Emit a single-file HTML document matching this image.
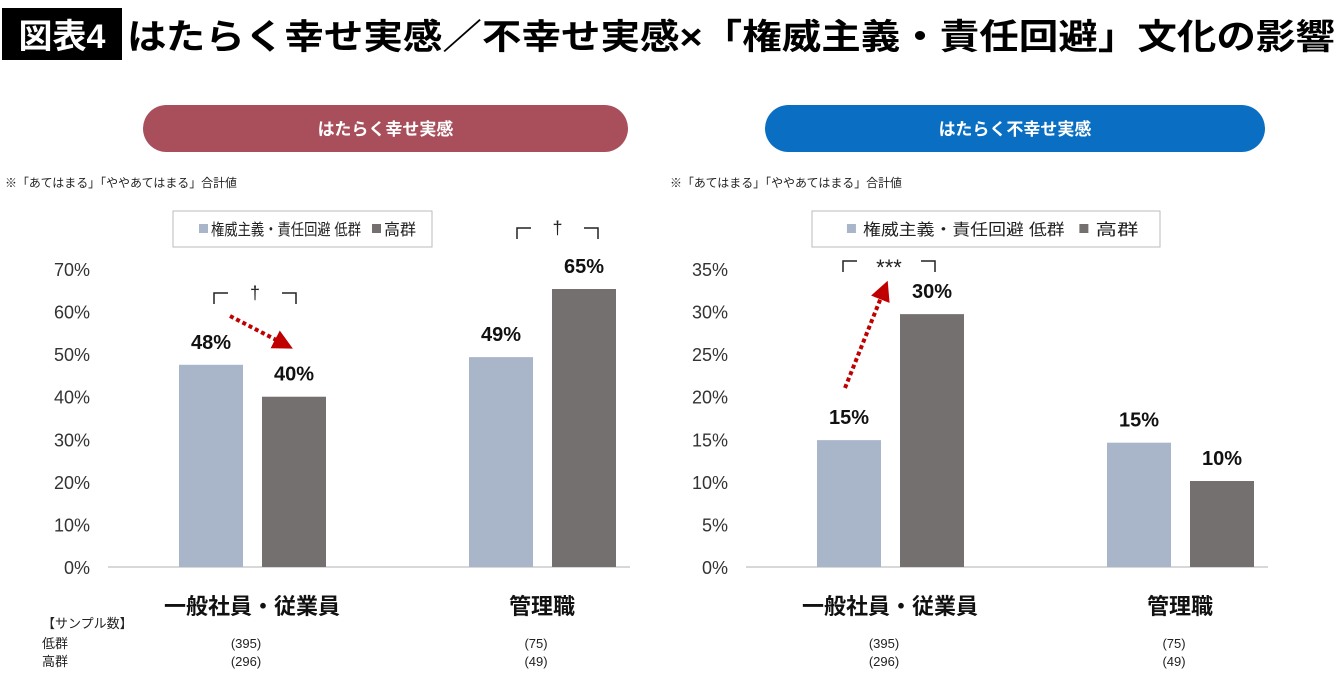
<!DOCTYPE html>
<html><head><meta charset="utf-8"><style>
html,body{margin:0;padding:0;background:#fff;}
body{width:1340px;height:681px;overflow:hidden;font-family:"Liberation Sans","Noto Sans CJK JP",sans-serif;}
svg text{font-family:"Liberation Sans","Noto Sans CJK JP",sans-serif;}
</style></head><body>
<svg id="s" width="1340" height="681" xmlns="http://www.w3.org/2000/svg">
<defs><marker id="ah" viewBox="0 0 10 10" refX="5" refY="5" markerWidth="5" markerHeight="5" orient="auto"><path d="M0,0L10,5L0,10z" fill="#c00000"/></marker></defs>
<rect x="2" y="8" width="120" height="52" fill="#000"/>
<text x="62" y="48" fill="#fff" font-size="34" font-weight="bold" text-anchor="middle">図表4</text>
<text x="127" y="49" fill="#000" font-size="35" font-weight="bold" textLength="1208" lengthAdjust="spacingAndGlyphs">はたらく幸せ実感／不幸せ実感×「権威主義・責任回避」文化の影響</text>
</svg>
<script>
const categories=["一般社員・従業員","管理職"];
const happyLow=[47.5,49.3];
const happyHigh=[40.0,65.3];
const unhappyLow=[14.9,14.6];
const unhappyHigh=[29.7,10.1];
const happyLabels=["48%","40%","49%","65%"];
const unhappyLabels=["15%","30%","15%","10%"];
const happyTicks=[0,10,20,30,40,50,60,70];
const unhappyTicks=[0,5,10,15,20,25,30,35];
const sampleLow=["(395)","(75)"];
const sampleHigh=["(296)","(49)"];
const svg=document.getElementById('s');
const NS="http://www.w3.org/2000/svg";
function mk(tag,at,txt){const e=document.createElementNS(NS,tag);for(const k in at)e.setAttribute(k,at[k]);if(txt!==undefined)e.textContent=txt;svg.appendChild(e);return e;}
function chart(ox,cfg,max,ticks,low,high,labels,title,pill,prefix){
  const y0=567,y1=269;
  const ys=v=>y0-(v/max)*(y0-y1);
  let e=mk('rect',{x:cfg.pillX,y:105,width:cfg.pillW,height:47,rx:23.5,fill:pill});
  
  e=mk('text',{x:cfg.pillX+cfg.pillW/2,y:135,'font-size':17,'font-weight':'bold',fill:'#fff','text-anchor':'middle'},title);
  
  e=mk('text',{x:cfg.noteX,y:187,'font-size':12,fill:'#222',textLength:232,lengthAdjust:'spacingAndGlyphs'},'※「あてはまる」「ややあてはまる」合計値');
  
  const lx=cfg.legX,lw=cfg.legW,k=lw/259;
  e=mk('rect',{x:lx,y:211,width:lw,height:36,fill:'#fff',stroke:'#bbb'});
  
  e=mk('rect',{x:lx+26*k,y:224,width:9,height:9,fill:'#a9b5c9'});
  
  e=mk('text',{x:lx+38*k,y:235,'font-size':16,fill:'#222',textLength:150*k,lengthAdjust:'spacingAndGlyphs'},'権威主義・責任回避  低群');
  
  e=mk('rect',{x:lx+199*k,y:224,width:9,height:9,fill:'#757070'});
  
  e=mk('text',{x:lx+211*k,y:235,'font-size':16,fill:'#222',textLength:32*k,lengthAdjust:'spacingAndGlyphs'},'高群');
  
  ticks.forEach(t=>{e=mk('text',{x:ox+90,y:ys(t)+7,'font-size':18,fill:'#333','text-anchor':'end'},t+'%');
    });
  e=mk('line',{x1:ox+108,x2:ox+630,y1:y0,y2:y0,stroke:'#ccc','stroke-width':1.5});
  
  const cx=[ox+252,ox+542];
  categories.forEach((c,i)=>{
    [[low[i],'#a9b5c9',-73,labels[i*2]],[high[i],'#757070',10,labels[i*2+1]]].forEach(([v,col,dx,lab],j)=>{
      const bx=cx[i]+dx;
      e=mk('rect',{x:bx,y:ys(v),width:64,height:y0-ys(v),fill:col});
      
      e=mk('text',{x:bx+32,y:ys(v)-16,'font-size':20,'font-weight':'bold',fill:'#111','text-anchor':'middle'},lab);
      
    });
    e=mk('text',{x:cx[i],y:614,'font-size':22,'font-weight':'bold',fill:'#111','text-anchor':'middle'},c);
    
    e=mk('text',{x:cx[i]-6,y:648,'font-size':13,fill:'#222','text-anchor':'middle'},sampleLow[i]);
    
    e=mk('text',{x:cx[i]-6,y:666,'font-size':13,fill:'#222','text-anchor':'middle'},sampleHigh[i]);
    
  });
}
chart(0,{pillX:143,pillW:485,noteX:5,legX:173,legW:259},70,happyTicks,happyLow,happyHigh,happyLabels,'はたらく幸せ実感','#a84f5b','happy');
chart(638,{pillX:765,pillW:500,noteX:670,legX:812,legW:348},35,unhappyTicks,unhappyLow,unhappyHigh,unhappyLabels,'はたらく不幸せ実感','#0a6fc2','unhappy');
[['【サンプル数】',628],['低群',648],['高群',666]].forEach(([t,y])=>{const e=mk('text',{x:42,y:y,'font-size':13,fill:'#222'},t);
});
function sig(x1,x2,y,sym,name){
  let e=mk('path',{d:`M${x1},${y+11}V${y}H${x1+14}M${x2-14},${y}H${x2}V${y+11}`,fill:'none',stroke:'#222','stroke-width':1.5});
  
  e=mk('text',{x:(x1+x2)/2,y:y+(sym==='***'?14:6),'font-size':sym==='***'?22:18,fill:'#222','text-anchor':'middle'},sym);
  
}
sig(214,296,293,'†','happy-sig-general');
sig(517,598,228,'†','happy-sig-manager');
sig(843,935,261,'***','unhappy-sig-general');
let e=mk('line',{x1:230,y1:316,x2:284,y2:344,stroke:'#c00000','stroke-width':4,'stroke-dasharray':'4 3','marker-end':'url(#ah)'});

e=mk('line',{x1:845,y1:388,x2:884,y2:290,stroke:'#c00000','stroke-width':4,'stroke-dasharray':'4 3','marker-end':'url(#ah)'});

</script>
</body></html>
